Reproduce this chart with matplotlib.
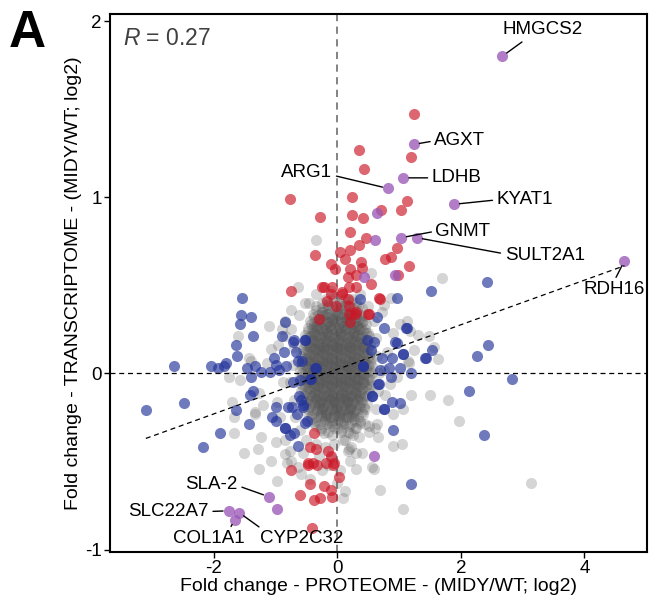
import matplotlib
matplotlib.use("Agg")
import matplotlib.pyplot as plt
import numpy as np

plt.rcParams['font.family'] = ['Liberation Sans', 'DejaVu Sans']
plt.rcParams['mathtext.fontset'] = 'custom'
plt.rcParams['mathtext.rm'] = 'Liberation Sans'
plt.rcParams['mathtext.it'] = 'Liberation Sans:italic'

# ---------------- data ----------------
# dense core of non-significant genes (grey)
core_x = [
 -0.18,-0.06,0.04,0.13,0.24,
 -0.25,-0.15,-0.06,0.05,0.13,0.22,0.31,
 -0.34,-0.25,-0.17,-0.08,0.00,0.08,0.16,0.25,0.33,
 -0.34,-0.25,-0.17,-0.08,-0.01,0.08,0.16,0.23,0.32,0.40,
 -0.40,-0.31,-0.24,-0.16,-0.08,0.00,0.07,0.15,0.23,0.31,0.39,
 -0.38,-0.30,-0.22,-0.15,-0.07,0.01,0.08,0.16,0.23,0.31,0.38,0.45,
 -0.45,-0.37,-0.30,-0.22,-0.15,-0.08,0.00,0.07,0.14,0.21,0.28,0.35,0.42,
 -0.43,-0.34,-0.27,-0.20,-0.12,-0.05,0.02,0.10,0.17,0.25,0.32,0.40,0.47,
 -0.48,-0.41,-0.33,-0.26,-0.19,-0.12,-0.05,0.02,0.09,0.16,0.23,0.30,0.38,0.45,
 -0.47,-0.38,-0.31,-0.23,-0.16,-0.09,-0.02,0.05,0.12,0.19,0.27,0.35,0.42,0.49,
 -0.52,-0.44,-0.37,-0.30,-0.23,-0.16,-0.09,-0.02,0.05,0.12,0.19,0.26,0.33,0.40,0.47,
 -0.50,-0.41,-0.34,-0.27,-0.20,-0.13,-0.06,0.01,0.08,0.15,0.22,0.30,0.37,0.45,0.51,
 -0.54,-0.46,-0.39,-0.31,-0.24,-0.17,-0.10,-0.03,0.05,0.12,0.19,0.27,0.34,0.42,0.49,
 -0.52,-0.44,-0.37,-0.30,-0.23,-0.16,-0.09,-0.02,0.05,0.12,0.19,0.26,0.33,0.40,0.47,0.53,
 -0.56,-0.49,-0.42,-0.35,-0.28,-0.21,-0.14,-0.07,0.00,0.07,0.14,0.21,0.29,0.36,0.43,0.50,
 -0.54,-0.46,-0.38,-0.31,-0.24,-0.17,-0.10,-0.03,0.04,0.11,0.19,0.26,0.33,0.41,0.48,0.54,
 -0.58,-0.51,-0.43,-0.36,-0.29,-0.22,-0.15,-0.08,-0.01,0.07,0.14,0.22,0.29,0.37,0.45,0.52,
 -0.55,-0.46,-0.39,-0.32,-0.24,-0.17,-0.10,-0.02,0.05,0.12,0.19,0.27,0.34,0.41,0.49,0.55,
 -0.59,-0.52,-0.44,-0.37,-0.29,-0.22,-0.15,-0.07,0.00,0.07,0.15,0.22,0.30,0.38,0.45,0.53,
 -0.57,-0.48,-0.41,-0.33,-0.26,-0.18,-0.11,-0.04,0.04,0.11,0.18,0.26,0.34,0.42,0.49,0.56,
 -0.60,-0.53,-0.45,-0.38,-0.30,-0.23,-0.15,-0.08,-0.01,0.07,0.15,0.22,0.30,0.38,0.46,0.53,
 -0.57,-0.48,-0.40,-0.33,-0.25,-0.18,-0.10,-0.03,0.05,0.12,0.20,0.27,0.35,0.42,0.50,0.56,
 -0.60,-0.53,-0.45,-0.38,-0.30,-0.23,-0.16,-0.08,-0.01,0.06,0.14,0.22,0.29,0.37,0.44,0.52,
 -0.57,-0.48,-0.41,-0.33,-0.26,-0.18,-0.11,-0.03,0.04,0.12,0.19,0.27,0.34,0.41,0.49,0.55,
 -0.59,-0.52,-0.44,-0.37,-0.30,-0.22,-0.15,-0.08,0.00,0.07,0.14,0.22,0.29,0.36,0.44,0.51,
 -0.55,-0.47,-0.40,-0.32,-0.25,-0.18,-0.11,-0.03,0.04,0.11,0.18,0.25,0.32,0.40,0.47,0.53,
 -0.58,-0.50,-0.43,-0.35,-0.28,-0.21,-0.13,-0.06,0.01,0.08,0.16,0.23,0.30,0.39,0.49,
 -0.54,-0.45,-0.38,-0.31,-0.23,-0.16,-0.09,-0.01,0.06,0.13,0.20,0.28,0.35,0.43,0.51,
 -0.56,-0.48,-0.41,-0.34,-0.26,-0.19,-0.12,-0.05,0.02,0.09,0.16,0.23,0.30,0.38,0.46,
 -0.52,-0.43,-0.36,-0.28,-0.21,-0.13,-0.06,0.01,0.09,0.16,0.24,0.32,0.40,0.48,
 -0.53,-0.45,-0.38,-0.30,-0.23,-0.16,-0.09,-0.02,0.05,0.12,0.20,0.27,0.35,0.43,
 -0.48,-0.39,-0.31,-0.24,-0.16,-0.09,-0.01,0.06,0.13,0.21,0.29,0.37,0.45,
 -0.49,-0.41,-0.33,-0.26,-0.18,-0.11,-0.04,0.03,0.10,0.17,0.24,0.32,0.40,
 -0.43,-0.34,-0.27,-0.19,-0.12,-0.05,0.02,0.09,0.17,0.25,0.33,0.41,
 -0.43,-0.35,-0.27,-0.20,-0.12,-0.05,0.03,0.10,0.18,0.27,0.36,
 -0.37,-0.28,-0.20,-0.12,-0.04,0.04,0.12,0.20,0.28,0.36,
 -0.35,-0.26,-0.17,-0.08,0.01,0.10,0.19,0.30,
 -0.26,-0.15,-0.05,0.06,0.17,0.28,
 -0.22,-0.08,0.06,0.20,
 -0.30,-0.20,-0.10,0.00,0.10,0.20,0.30,-0.25,-0.15,-0.05,0.05,0.15,0.25,
 -0.30,-0.20,-0.10,0.00,0.10,0.20,0.30,-0.25,-0.15,-0.05,0.05,0.15,0.25,
]
core_y = [
 0.42,0.43,0.41,0.43,0.42,
 0.40,0.39,0.41,0.40,0.39,0.41,0.40,
 0.38,0.37,0.39,0.38,0.37,0.38,0.39,0.37,0.38,
 0.36,0.35,0.37,0.36,0.35,0.37,0.36,0.35,0.36,0.37,
 0.34,0.33,0.35,0.34,0.33,0.35,0.34,0.33,0.35,0.34,0.33,
 0.32,0.31,0.33,0.32,0.31,0.33,0.32,0.31,0.33,0.32,0.31,0.33,
 0.30,0.29,0.31,0.30,0.29,0.31,0.30,0.29,0.31,0.30,0.29,0.31,0.30,
 0.28,0.27,0.29,0.28,0.27,0.29,0.28,0.27,0.29,0.28,0.27,0.29,0.28,
 0.26,0.25,0.27,0.26,0.25,0.27,0.26,0.25,0.27,0.26,0.25,0.27,0.26,0.25,
 0.24,0.23,0.25,0.24,0.23,0.25,0.24,0.23,0.25,0.24,0.23,0.25,0.24,0.23,
 0.22,0.21,0.23,0.22,0.21,0.23,0.22,0.21,0.23,0.22,0.21,0.23,0.22,0.21,0.23,
 0.20,0.19,0.21,0.20,0.19,0.21,0.20,0.19,0.21,0.20,0.19,0.21,0.20,0.19,0.21,
 0.18,0.17,0.19,0.18,0.17,0.19,0.18,0.17,0.19,0.18,0.17,0.19,0.18,0.17,0.19,
 0.16,0.15,0.17,0.16,0.15,0.17,0.16,0.15,0.17,0.16,0.15,0.17,0.16,0.15,0.17,0.16,
 0.14,0.13,0.15,0.14,0.13,0.15,0.14,0.13,0.15,0.14,0.13,0.15,0.14,0.13,0.15,0.14,
 0.12,0.11,0.13,0.12,0.11,0.13,0.12,0.11,0.13,0.12,0.11,0.13,0.12,0.11,0.13,0.12,
 0.10,0.09,0.11,0.10,0.09,0.11,0.10,0.09,0.11,0.10,0.09,0.11,0.10,0.09,0.11,0.10,
 0.08,0.07,0.09,0.08,0.07,0.09,0.08,0.07,0.09,0.08,0.07,0.09,0.08,0.07,0.09,0.08,
 0.06,0.05,0.07,0.06,0.05,0.07,0.06,0.05,0.07,0.06,0.05,0.07,0.06,0.05,0.07,0.06,
 0.04,0.03,0.05,0.04,0.03,0.05,0.04,0.03,0.05,0.04,0.03,0.05,0.04,0.03,0.05,0.04,
 0.02,0.01,0.03,0.02,0.01,0.03,0.02,0.01,0.03,0.02,0.01,0.03,0.02,0.01,0.03,0.02,
 0.00,-0.01,0.01,0.00,-0.01,0.01,0.00,-0.01,0.01,0.00,-0.01,0.01,0.00,-0.01,0.01,0.00,
 -0.02,-0.03,-0.01,-0.02,-0.03,-0.01,-0.02,-0.03,-0.01,-0.02,-0.03,-0.01,-0.02,-0.03,-0.01,-0.02,
 -0.04,-0.05,-0.03,-0.04,-0.05,-0.03,-0.04,-0.05,-0.03,-0.04,-0.05,-0.03,-0.04,-0.05,-0.03,-0.04,
 -0.06,-0.07,-0.05,-0.06,-0.07,-0.05,-0.06,-0.07,-0.05,-0.06,-0.07,-0.05,-0.06,-0.07,-0.05,-0.06,
 -0.08,-0.09,-0.07,-0.08,-0.09,-0.07,-0.08,-0.09,-0.07,-0.08,-0.09,-0.07,-0.08,-0.09,-0.07,-0.08,
 -0.10,-0.11,-0.09,-0.10,-0.11,-0.09,-0.10,-0.11,-0.09,-0.10,-0.11,-0.09,-0.10,-0.11,-0.09,
 -0.12,-0.13,-0.11,-0.12,-0.13,-0.11,-0.12,-0.13,-0.11,-0.12,-0.13,-0.11,-0.12,-0.13,-0.11,
 -0.14,-0.15,-0.13,-0.14,-0.15,-0.13,-0.14,-0.15,-0.13,-0.14,-0.15,-0.13,-0.14,-0.15,-0.13,
 -0.16,-0.17,-0.15,-0.16,-0.17,-0.15,-0.16,-0.17,-0.15,-0.16,-0.17,-0.15,-0.16,-0.17,
 -0.18,-0.19,-0.17,-0.18,-0.19,-0.17,-0.18,-0.19,-0.17,-0.18,-0.19,-0.17,-0.18,-0.19,
 -0.20,-0.21,-0.19,-0.20,-0.21,-0.19,-0.20,-0.21,-0.19,-0.20,-0.21,-0.19,-0.20,
 -0.22,-0.23,-0.21,-0.22,-0.23,-0.21,-0.22,-0.23,-0.21,-0.22,-0.23,-0.21,-0.22,
 -0.24,-0.25,-0.23,-0.24,-0.25,-0.23,-0.24,-0.25,-0.23,-0.24,-0.25,-0.23,
 -0.26,-0.27,-0.25,-0.26,-0.27,-0.25,-0.26,-0.27,-0.25,-0.26,-0.27,
 -0.28,-0.29,-0.27,-0.28,-0.29,-0.27,-0.28,-0.29,-0.27,-0.28,
 -0.30,-0.31,-0.29,-0.30,-0.31,-0.29,-0.30,-0.31,
 -0.32,-0.33,-0.31,-0.32,-0.33,-0.31,
 -0.34,-0.35,-0.33,-0.34,
 0.15,0.13,0.16,0.14,0.15,0.13,0.16,0.05,0.07,0.04,0.06,0.05,0.07,
 -0.05,-0.03,-0.06,-0.04,-0.05,-0.03,-0.06,-0.15,-0.13,-0.16,-0.14,-0.15,-0.13,
]

# densest centre of the grey cloud
inner_x = [
 -0.24,-0.16,-0.08,0.00,0.08,0.16,0.24,
 -0.33,-0.25,-0.17,-0.10,-0.02,0.06,0.14,0.22,0.30,
 -0.37,-0.29,-0.21,-0.13,-0.05,0.03,0.11,0.19,0.27,0.34,
 -0.40,-0.33,-0.25,-0.18,-0.10,-0.03,0.05,0.12,0.20,0.27,0.35,
 -0.43,-0.35,-0.28,-0.20,-0.13,-0.05,0.02,0.10,0.17,0.25,0.32,0.39,
 -0.45,-0.37,-0.29,-0.22,-0.14,-0.07,0.01,0.08,0.16,0.23,0.31,0.38,
 -0.46,-0.39,-0.31,-0.24,-0.16,-0.09,-0.01,0.06,0.14,0.21,0.29,0.36,0.43,
 -0.47,-0.40,-0.32,-0.25,-0.17,-0.10,-0.02,0.05,0.13,0.20,0.28,0.35,0.42,
 -0.48,-0.41,-0.33,-0.26,-0.18,-0.11,-0.03,0.04,0.12,0.19,0.27,0.34,0.42,
 -0.48,-0.40,-0.33,-0.25,-0.18,-0.10,-0.03,0.05,0.12,0.20,0.27,0.35,0.43,
 -0.49,-0.41,-0.34,-0.26,-0.19,-0.11,-0.04,0.04,0.11,0.19,0.26,0.34,0.42,
 -0.48,-0.40,-0.33,-0.25,-0.18,-0.10,-0.03,0.05,0.12,0.20,0.27,0.35,0.42,
 -0.48,-0.41,-0.33,-0.26,-0.18,-0.11,-0.03,0.04,0.12,0.19,0.27,0.34,0.41,
 -0.47,-0.39,-0.32,-0.24,-0.17,-0.09,-0.02,0.06,0.13,0.21,0.28,0.35,0.41,
 -0.46,-0.38,-0.31,-0.23,-0.16,-0.08,-0.01,0.07,0.14,0.22,0.29,0.37,
 -0.44,-0.37,-0.29,-0.22,-0.14,-0.07,0.01,0.08,0.16,0.23,0.30,0.36,
 -0.42,-0.34,-0.27,-0.19,-0.12,-0.04,0.03,0.11,0.18,0.26,0.33,
 -0.38,-0.30,-0.23,-0.15,-0.08,0.00,0.07,0.15,0.22,0.30,
 -0.33,-0.25,-0.18,-0.10,-0.03,0.05,0.12,0.20,0.27,
 -0.26,-0.18,-0.10,-0.02,0.06,0.14,0.22,
]
inner_y = [
 0.33,0.34,0.32,0.33,0.34,0.32,0.33,
 0.30,0.31,0.29,0.30,0.31,0.29,0.30,0.31,0.29,
 0.27,0.28,0.26,0.27,0.28,0.26,0.27,0.28,0.26,0.27,
 0.24,0.25,0.23,0.24,0.25,0.23,0.24,0.25,0.23,0.24,0.25,
 0.21,0.22,0.20,0.21,0.22,0.20,0.21,0.22,0.20,0.21,0.22,0.20,
 0.18,0.19,0.17,0.18,0.19,0.17,0.18,0.19,0.17,0.18,0.19,0.17,
 0.15,0.16,0.14,0.15,0.16,0.14,0.15,0.16,0.14,0.15,0.16,0.14,0.15,
 0.12,0.13,0.11,0.12,0.13,0.11,0.12,0.13,0.11,0.12,0.13,0.11,0.12,
 0.09,0.10,0.08,0.09,0.10,0.08,0.09,0.10,0.08,0.09,0.10,0.08,0.09,
 0.06,0.07,0.05,0.06,0.07,0.05,0.06,0.07,0.05,0.06,0.07,0.05,0.06,
 0.03,0.04,0.02,0.03,0.04,0.02,0.03,0.04,0.02,0.03,0.04,0.02,0.03,
 0.00,0.01,-0.01,0.00,0.01,-0.01,0.00,0.01,-0.01,0.00,0.01,-0.01,0.00,
 -0.03,-0.02,-0.04,-0.03,-0.02,-0.04,-0.03,-0.02,-0.04,-0.03,-0.02,-0.04,-0.03,
 -0.06,-0.05,-0.07,-0.06,-0.05,-0.07,-0.06,-0.05,-0.07,-0.06,-0.05,-0.07,-0.06,
 -0.09,-0.08,-0.10,-0.09,-0.08,-0.10,-0.09,-0.08,-0.10,-0.09,-0.08,-0.10,
 -0.12,-0.11,-0.13,-0.12,-0.11,-0.13,-0.12,-0.11,-0.13,-0.12,-0.11,-0.13,
 -0.15,-0.14,-0.16,-0.15,-0.14,-0.16,-0.15,-0.14,-0.16,-0.15,-0.14,
 -0.18,-0.17,-0.19,-0.18,-0.17,-0.19,-0.18,-0.17,-0.19,-0.18,
 -0.21,-0.20,-0.22,-0.21,-0.20,-0.22,-0.21,-0.20,-0.22,
 -0.24,-0.23,-0.25,-0.24,-0.23,-0.25,-0.24,
]

# scattered non-significant genes (grey)
grey_x = [-0.64,-0.46,-0.75,0.87,1.69,-0.34,0.54,-1.11,-1.61,-0.96,-1.40,-1.14,-1.76,-1.58,
          1.13,1.31,1.49,1.25,1.63,1.57,1.16,1.19,1.50,1.79,1.97,3.14,1.07,0.69,0.60,1.04,
          0.90,0.66,0.51,0.19,0.12,0.10,-0.58,-0.64,-0.97,-1.27,-1.08,-1.51,-1.29,-1.23,
          -1.67,-1.67,-1.34,-1.20,-1.70,-0.84,-0.99,-0.75,-1.43,-1.08,-1.26,-1.33,-0.85,-0.98,
          0.75,1.02,1.18,0.91,1.15,0.96,0.85,0.91,1.07,0.64,0.45,0.61,0.26,0.13,0.23,0.18,
          0.56,-0.85,-0.77,-0.82,-0.85,0.31,
          -0.75,-0.70,-0.72,-0.76,-0.70,-0.68,-0.60,-0.50,-0.35,-0.20,-0.05,0.10,0.35,0.52,
          0.62,0.66,0.68,0.65,0.63,0.60,0.50,0.36,-0.10,-0.35,-0.52,-0.62,0.30,-0.10,-0.25,
          -0.45,0.05,0.00,0.40,-0.55,-0.30,0.80,0.78,0.75,-0.90,-0.88,-0.92,0.72,0.20,-0.15]
grey_y = [0.49,0.40,0.36,0.43,0.54,0.76,0.57,0.27,0.21,0.16,0.07,0.06,-0.02,-0.04,
          0.30,0.22,0.21,0.13,0.08,0.15,0.06,-0.12,-0.12,-0.15,-0.27,-0.62,-0.77,-0.66,-0.54,-0.40,
          -0.41,-0.36,-0.33,-0.43,-0.67,-0.71,-0.57,-0.53,-0.61,-0.54,-0.50,-0.45,-0.43,-0.36,
          -0.34,-0.25,-0.23,-0.18,-0.16,-0.46,-0.39,-0.50,0.09,0.14,-0.11,-0.22,0.21,-0.16,
          0.39,0.28,0.24,0.23,0.07,-0.02,-0.06,-0.23,-0.20,-0.29,-0.29,-0.31,-0.35,-0.38,-0.42,-0.44,
          -0.53,-0.38,-0.44,-0.51,0.30,-0.54,
          0.25,0.15,0.05,-0.05,-0.15,-0.25,-0.32,-0.38,-0.40,-0.42,-0.40,-0.38,-0.36,-0.30,
          -0.20,-0.10,0.00,0.10,0.20,0.30,0.38,0.45,0.47,0.45,0.40,0.33,-0.45,-0.48,-0.55,
          -0.60,-0.55,-0.62,-0.45,-0.45,-0.47,0.12,-0.12,0.02,0.25,-0.05,-0.25,0.35,-0.50,-0.52]

# genes significant in transcriptome only (blue)
blue_x = [-1.55,1.51,2.43,0.97,-1.56,-1.39,-1.57,-0.84,-1.36,0.65,1.13,-1.64,-0.90,-0.70,
          -0.52,0.60,0.96,2.44,-1.63,-1.03,-0.86,-0.67,-0.64,-0.57,0.54,0.72,0.88,1.06,1.43,
          1.53,2.27,-2.64,-2.04,-1.93,-1.83,-1.80,-1.47,-1.34,-0.99,-1.09,-0.94,-0.83,-0.34,
          0.42,0.69,0.84,0.87,1.01,1.20,-1.40,-1.23,-0.43,-0.61,2.83,-3.10,-2.49,-1.36,-1.41,
          -1.64,-0.99,-0.80,-0.55,-0.62,-0.59,0.66,0.56,0.75,0.88,1.01,2.13,-1.05,-0.99,-1.43,
          -0.84,-0.77,-0.70,-0.49,-1.90,-2.17,-0.64,0.91,2.38,1.20,
          0.37,1.12,0.75,0.94,0.48,1.07,1.42,0.41,0.67,0.56,0.75,-0.52,-0.71,-0.36,-0.44,
          -0.71,-0.55,-0.74,-0.66,-0.52,-0.85]
blue_y = [0.43,0.47,0.52,0.43,0.33,0.32,0.28,0.29,0.21,0.32,0.26,0.16,0.21,0.19,
          0.19,0.18,0.17,0.16,0.10,0.09,0.12,0.12,0.07,0.07,0.13,0.09,0.09,0.11,0.09,
          0.13,0.10,0.04,0.04,0.03,0.04,0.06,0.03,0.04,0.05,0.01,0.02,0.04,0.03,
          0.04,0.02,0.03,-0.02,0.03,0.00,-0.02,0.01,-0.03,-0.04,-0.03,-0.21,-0.17,-0.10,-0.12,
          -0.21,-0.19,-0.19,-0.19,-0.13,-0.15,-0.06,-0.13,-0.20,-0.16,-0.17,-0.10,-0.25,-0.27,-0.29,
          -0.31,-0.35,-0.34,-0.27,-0.34,-0.42,-0.41,-0.32,-0.35,-0.63,
          0.42,0.26,0.26,0.18,0.19,0.11,0.09,0.04,-0.06,-0.13,-0.20,0.19,0.18,0.03,-0.03,
          -0.05,-0.18,-0.19,-0.23,-0.28,-0.31]

# genes significant in proteome only (red)
red_x = [1.24,0.35,0.44,1.20,-0.77,0.24,1.13,0.70,1.03,-0.28,0.24,0.41,0.20,0.47,0.35,
         0.04,0.21,-0.36,0.97,0.87,0.78,0.13,-0.11,-0.04,0.39,1.16,0.20,0.40,0.17,0.99,
         0.30,0.54,-0.75,-0.22,-0.08,0.19,0.31,0.07,0.68,-0.25,-0.11,0.07,0.69,-0.02,0.19,
         0.19,0.31,0.52,-0.30,0.21,-0.17,0.18,0.29,0.50,
         -0.37,-0.44,-0.34,-0.15,-0.11,-0.48,-0.33,-0.19,-0.07,-0.75,0.02,-0.45,-0.22,-0.11,
         -0.61,-0.09,-0.37,-0.28,-0.41,-0.39,-0.47,-0.05]
red_y = [1.47,1.27,1.16,1.23,0.99,1.00,0.98,0.93,0.93,0.89,0.90,0.88,0.80,0.77,0.73,
         0.69,0.70,0.67,0.71,0.66,0.65,0.65,0.62,0.59,0.63,0.61,0.59,0.60,0.55,0.56,
         0.56,0.51,0.47,0.49,0.49,0.49,0.49,0.46,0.43,0.49,0.45,0.45,0.42,0.38,0.38,
         0.34,0.35,0.34,0.31,0.29,0.41,0.42,0.34,0.34,
         -0.34,-0.42,-0.43,-0.44,-0.47,-0.51,-0.52,-0.51,-0.52,-0.55,-0.59,-0.63,-0.64,-0.66,
         -0.69,-0.70,-0.72,-0.71,-0.88,-0.51,-0.52,-0.51]

# genes significant in both (purple), labelled ones first
purple_names = ["HMGCS2","AGXT","LDHB","ARG1","KYAT1","GNMT","SULT2A1","RDH16",
                "SLA-2","SLC22A7","COL1A1","CYP2C32"]
purple_x = [2.67,1.24,1.07,0.82,1.89,1.03,1.29,4.65,-1.11,-1.76,-1.66,-1.59,
            0.65,0.61,0.93,0.44,-0.97,0.60]
purple_y = [1.80,1.30,1.11,1.05,0.96,0.77,0.77,0.64,-0.70,-0.78,-0.83,-0.79,
            0.91,0.76,0.56,0.55,-0.77,-0.47]

# label positions (data units), alignment, connector anchor on the text box
label_x = [3.33,1.57,1.53,-0.08,2.58,1.59,2.71,4.48,-1.61,-2.08,-2.08,-0.58]
label_y = [1.95,1.32,1.11,1.14,0.985,0.807,0.669,0.474,-0.628,-0.784,-0.94,-0.94]
label_ha = ["center","left","left","right","left","left","left","center",
            "right","right","center","center"]
label_rel = [(0.3,0.0),(0,0.5),(0,0.5),(1,0.35),(0,0.5),(0,0.5),(0,0.6),(0.5,1),
             (1,0.4),(1,0.5),(0.78,1),(0.05,1)]

# regression line (fit reported in the figure)
fit_slope = 0.1265
fit_intercept = 0.023
r_value = "0.27"

# ---------------- plot ----------------
fig = plt.figure(figsize=(6.49, 5.99), dpi=100)
ax = fig.add_axes([0.1695, 0.079, 0.827, 0.8976])

ms = 64
ax.axvline(0, color="#7a7a7a", lw=1.3, ls=(0, (4, 3)), zorder=1)
ax.axhline(0, color="black", lw=0.9, ls=(0, (4, 3)), zorder=5)

grey_style = dict(s=ms, color="#585858", alpha=0.25, lw=0, zorder=2)
ax.scatter(core_x, core_y, **grey_style)
ax.scatter(inner_x, inner_y, **grey_style)
ax.scatter(grey_x, grey_y, **grey_style)
ax.scatter(blue_x, blue_y, s=ms, color="#22339a", alpha=0.65, lw=0, zorder=3)
ax.scatter(red_x, red_y, s=ms, color="#cc1525", alpha=0.65, lw=0, zorder=3)
ax.scatter(purple_x, purple_y, s=ms, color="#9b59b6", alpha=0.78, lw=0, zorder=4)

all_x = np.concatenate([core_x, grey_x, blue_x, red_x, purple_x])
lx = np.array([all_x.min(), all_x.max()])
ax.plot(lx, fit_intercept + fit_slope * lx, color="black", lw=0.9,
        ls=(0, (4, 3)), zorder=5)

for i, name in enumerate(purple_names):
    ax.annotate(name, xy=(purple_x[i], purple_y[i]), xytext=(label_x[i], label_y[i]),
                ha=label_ha[i], va="center", fontsize=13.5, color="black", zorder=6,
                arrowprops=dict(arrowstyle="-", color="black", lw=1.0,
                                shrinkA=1, shrinkB=4, relpos=label_rel[i]))

ax.text(-3.47, 1.90, r"$R$ = " + r_value, fontsize=16.5,
        color="#404040", ha="left", va="center")

ax.set_xlim(-3.68, 5.01)
ax.set_ylim(-1.012, 2.04)
ax.set_xticks([-2, 0, 2, 4])
ax.set_yticks([-1, 0, 1, 2])
ax.set_xticklabels(["-2", "0", "2", "4"])
ax.set_yticklabels(["-1", "0", "1", "2"])
ax.tick_params(direction="out", length=4, width=1, labelsize=13.5, pad=2, colors="black")
for s in ax.spines.values():
    s.set_linewidth(1.5)
    s.set_color("black")

ax.set_xlabel("Fold change - PROTEOME - (MIDY/WT; log2)", fontsize=14, labelpad=1)
ax.set_ylabel("Fold change - TRANSCRIPTOME - (MIDY/WT; log2)", fontsize=14, labelpad=2)

fig.text(0.014, 0.921, "A", fontsize=37, fontweight="bold", ha="left", va="baseline")

fig.savefig("out.png", dpi=100)
